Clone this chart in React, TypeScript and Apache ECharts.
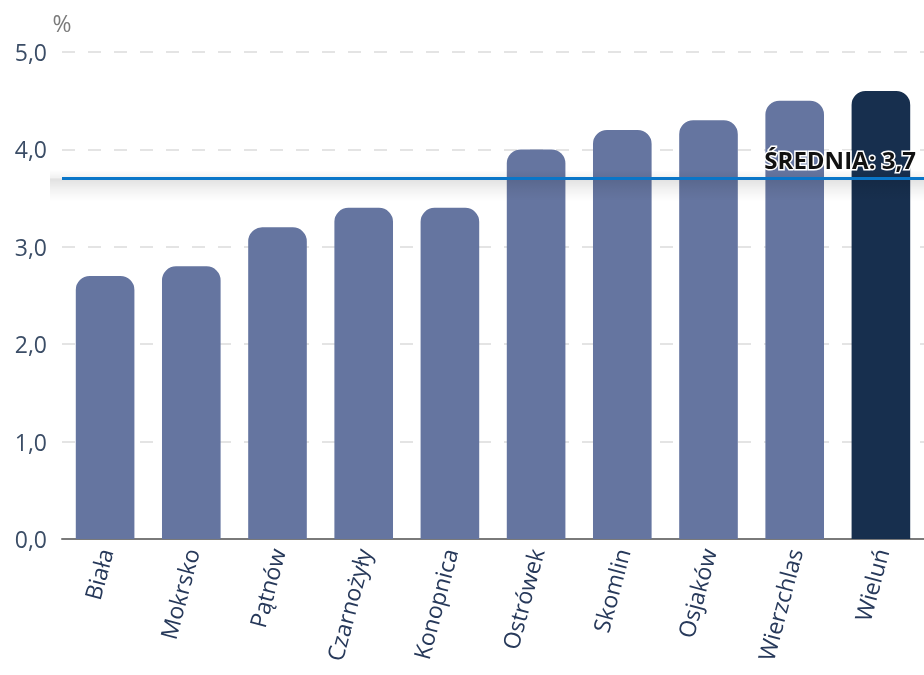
import React, { useEffect, useRef } from "react";
import * as echarts from "echarts";

const categories = ["Biała", "Mokrsko", "Pątnów", "Czarnożyły", "Konopnica", "Ostrówek", "Skomlin", "Osjaków", "Wierzchlas", "Wieluń"];
const values = [2.7, 2.8, 3.2, 3.4, 3.4, 4.0, 4.2, 4.3, 4.5, 4.6];
const highlighted = "Wieluń";
const AVERAGE = 3.7;
const averageLabel = "ŚREDNIA";
const yUnit = "%";

const FONT = "'Open Sans', 'Noto Sans', sans-serif";

export default function App() {
  const ref = useRef<HTMLDivElement>(null);
  useEffect(() => {
    if (!ref.current) return;
    const chart = echarts.init(ref.current, null, { renderer: "svg" });
    chart.setOption({
      animation: false,
      grid: { left: 62, right: -3, top: 52, bottom: 136, containLabel: false },
      xAxis: {
        type: "category",
        data: categories,
        axisLine: { lineStyle: { color: "#7a7a7a", width: 2 } },
        axisTick: { alignWithLabel: true, length: 8, lineStyle: { color: "#7a7a7a", width: 2 } },
        axisLabel: {
          rotate: 75,
          margin: 10,
          fontSize: 23,
          color: "#27395a",
          fontFamily: FONT,
          interval: 0,
        },
      },
      yAxis: {
        type: "value",
        min: 0,
        max: 5,
        interval: 1,
        name: yUnit,
        nameLocation: "end",
        nameGap: 18,
        nameTextStyle: { color: "#7a7a7a", fontSize: 23, fontFamily: FONT },
        axisLine: { show: false },
        axisTick: { show: false },
        axisLabel: {
          fontSize: 23,
          color: "#3b4d66",
          fontFamily: FONT,
          margin: 15,
          formatter: (v: number) => v.toFixed(1).replace(".", ","),
        },
        splitLine: { lineStyle: { color: "#dcdcdc", width: 1.5, type: [13, 13] } },
      },
      series: [
        {
          type: "bar",
          barWidth: "68%",
          z: 2,
          data: values.map((v, i) => ({
            value: v,
            itemStyle: { color: categories[i] === highlighted ? "#172f4e" : "#6575a0" },
          })),
          itemStyle: { borderRadius: [14, 14, 0, 0] },
          markArea: {
            silent: true,
            z: 3,
            label: { show: false },
            data: [
              [
                {
                  yAxis: AVERAGE + 0.09,
                  x: 50,
                  itemStyle: {
                    color: new echarts.graphic.LinearGradient(0, 0, 0, 1, [
                      { offset: 0, color: "rgba(0,0,0,0)" },
                      { offset: 1, color: "rgba(0,0,0,0.06)" },
                    ]),
                  },
                },
                { yAxis: AVERAGE, x: "100%" },
              ],
              [
                {
                  yAxis: AVERAGE,
                  x: 50,
                  itemStyle: {
                    color: new echarts.graphic.LinearGradient(0, 0, 0, 1, [
                      { offset: 0, color: "rgba(0,0,0,0.12)" },
                      { offset: 0.5, color: "rgba(0,0,0,0.05)" },
                      { offset: 1, color: "rgba(0,0,0,0)" },
                    ]),
                  },
                },
                { yAxis: AVERAGE - 0.23, x: "100%" },
              ],
            ],
          },
          markLine: {
            silent: true,
            symbol: "none",
            z: 5,
            data: [{ yAxis: AVERAGE }],
            lineStyle: {
              color: "#0a76c8",
              width: 3,
              type: "solid",
            },
            label: {
              position: "insideEndTop",
              formatter: `${averageLabel}: ${AVERAGE.toFixed(1).replace(".", ",")}`,
              fontSize: 24,
              fontWeight: "bold",
              color: "#111",
              fontFamily: FONT,
              textBorderColor: "#fff",
              textBorderWidth: 3,
              distance: [8, 7],
            },
          },
        },
      ],
    });
    return () => chart.dispose();
  }, []);
  return <div ref={ref} style={{ position: "fixed", left: 0, top: 0, width: 924, height: 675 }} />;
}
